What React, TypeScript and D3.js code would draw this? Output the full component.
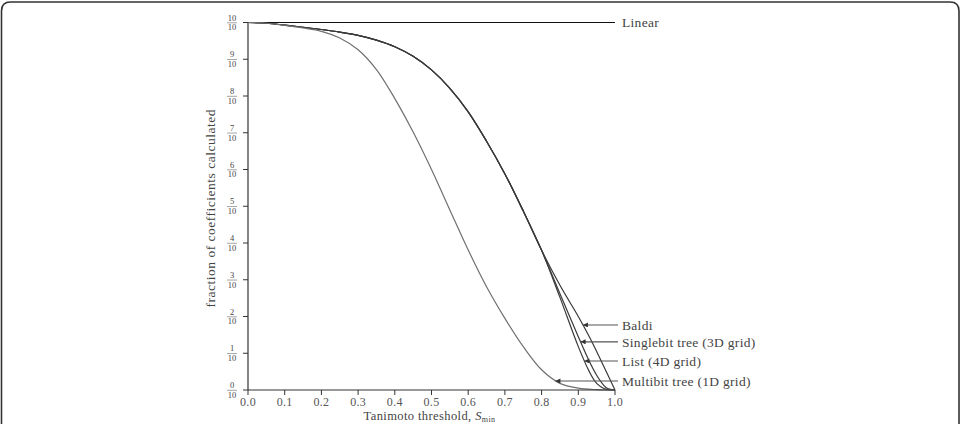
import * as d3 from "d3";
import { useEffect, useRef } from "react";

// threshold values (x) for the curves
const xCommon = [0, 0.05, 0.1, 0.15, 0.2, 0.25, 0.3, 0.35, 0.4, 0.45, 0.5, 0.55, 0.6, 0.65, 0.7, 0.75, 0.8];
const yCommon = [1, 0.998, 0.993, 0.987, 0.981, 0.974, 0.965, 0.952, 0.934, 0.908, 0.871, 0.821, 0.757, 0.677, 0.588, 0.487, 0.38];

const xTail = [0.85, 0.9, 0.93, 0.95, 0.97, 0.98, 1.0];
const baldiTail = [0.285, 0.2, 0.145, 0.105, 0.063, 0.042, 0];
const singlebitTail = [0.262, 0.145, 0.078, 0.04, 0.012, 0.004, 0];
const listTail = [0.252, 0.118, 0.05, 0.018, 0.004, 0.001, 0];

const xMulti = [0, 0.05, 0.1, 0.15, 0.2, 0.25, 0.3, 0.35, 0.4, 0.45, 0.5, 0.55, 0.6, 0.65, 0.7, 0.75, 0.8, 0.85, 0.9, 0.95, 1.0];
const yMulti = [1, 0.998, 0.992, 0.985, 0.976, 0.958, 0.926, 0.872, 0.793, 0.702, 0.6, 0.49, 0.381, 0.281, 0.195, 0.118, 0.055, 0.018, 0.005, 0.001, 0];

const xTicks = [0, 0.1, 0.2, 0.3, 0.4, 0.5, 0.6, 0.7, 0.8, 0.9, 1.0];
const yTicks = [0, 1, 2, 3, 4, 5, 6, 7, 8, 9, 10];

// labelled curves with the height of their label arrows
const seriesNames = ["Baldi", "Singlebit tree (3D grid)", "List (4D grid)", "Multibit tree (1D grid)"];
const labelY = [0.177, 0.131, 0.079, 0.0245];

function App() {
    const ref = useRef<SVGSVGElement>(null);

    useEffect(() => {
        const svg = d3.select(ref.current);
        svg.selectAll("*").remove();

        const width = 961;
        const height = 424;
        const margin = { left: 248, top: 22.5, right: 346, bottom: 34 };
        const plotW = width - margin.left - margin.right;
        const plotH = height - margin.top - margin.bottom;
        const font = "Liberation Serif";
        const textCol = "#444";

        svg.attr("width", width).attr("height", height)
            .attr("font-family", font);

        // frame around the figure
        svg.append("path")
            .attr("d", `M1.5,${height + 5} L1.5,11 Q1.5,2 10.5,2 L950,2 Q959,2 959,11 L959,${height + 5}`)
            .attr("fill", "none")
            .attr("stroke", "#333")
            .attr("stroke-width", 1.6);

        const g = svg.append("g").attr("transform", `translate(${margin.left},${margin.top})`);

        const x = d3.scaleLinear().domain([0, 1]).range([0, plotW]);
        const y = d3.scaleLinear().domain([0, 1]).range([plotH, 0]);

        const pts = (xs: number[], ys: number[]) => xs.map((v, i) => [v, ys[i]] as [number, number]);
        const common = pts(xCommon, yCommon);
        const curves = [
            { name: seriesNames[0], data: common.concat(pts(xTail, baldiTail)), color: "#3a3a3a" },
            { name: seriesNames[1], data: common.concat(pts(xTail, singlebitTail)), color: "#3a3a3a" },
            { name: seriesNames[2], data: common.concat(pts(xTail, listTail)), color: "#3a3a3a" },
            { name: seriesNames[3], data: pts(xMulti, yMulti), color: "#707070" },
        ];

        const line = d3.line<[number, number]>()
            .x(d => x(d[0]))
            .y(d => y(d[1]))
            .curve(d3.curveCatmullRom.alpha(0.5));

        // linear baseline
        g.append("line")
            .attr("x1", x(0)).attr("x2", x(1))
            .attr("y1", y(1)).attr("y2", y(1))
            .attr("stroke", "#111")
            .attr("stroke-width", 1.1);

        g.append("text")
            .attr("x", x(1) + 7)
            .attr("y", y(1))
            .attr("dy", "0.35em")
            .attr("font-size", 13.5)
            .attr("letter-spacing", 0.3)
            .attr("fill", textCol)
            .text("Linear");

        const paths = curves.map(c =>
            g.append("path")
                .datum(c.data)
                .attr("d", line)
                .attr("fill", "none")
                .attr("stroke", c.color)
                .attr("stroke-width", 1.2)
        );

        // axes
        const axisCol = "#333";
        g.append("line")
            .attr("x1", 0).attr("x2", 0).attr("y1", y(1)).attr("y2", y(0))
            .attr("stroke", axisCol).attr("stroke-width", 1.2);
        g.append("line")
            .attr("x1", 0).attr("x2", x(1)).attr("y1", y(0)).attr("y2", y(0))
            .attr("stroke", axisCol).attr("stroke-width", 1.2);

        xTicks.forEach(t => {
            g.append("line")
                .attr("x1", x(t)).attr("x2", x(t))
                .attr("y1", y(0)).attr("y2", y(0) + 5)
                .attr("stroke", axisCol);
            g.append("text")
                .attr("x", x(t))
                .attr("y", y(0) + 16)
                .attr("text-anchor", "middle")
                .attr("font-size", 12)
                .attr("letter-spacing", 0.3)
                .attr("fill", "#555")
                .text(t.toFixed(1));
        });

        yTicks.forEach(t => {
            const yy = y(t / 10);
            g.append("line")
                .attr("x1", -5).attr("x2", 0)
                .attr("y1", yy).attr("y2", yy)
                .attr("stroke", axisCol);
            const cx = -16;
            g.append("text")
                .attr("x", cx).attr("y", yy - 2)
                .attr("text-anchor", "middle")
                .attr("font-size", 8.5)
                .attr("fill", textCol)
                .text(String(t));
            g.append("line")
                .attr("x1", cx - 5).attr("x2", cx + 5)
                .attr("y1", yy + 0.3).attr("y2", yy + 0.3)
                .attr("stroke", "#666").attr("stroke-width", 0.6);
            g.append("text")
                .attr("x", cx).attr("y", yy + 7.8)
                .attr("text-anchor", "middle")
                .attr("font-size", 8.5)
                .attr("fill", textCol)
                .text("10");
        });

        // axis titles
        const xt = svg.append("text")
            .attr("x", margin.left + x(0.5) - 2)
            .attr("y", 420)
            .attr("text-anchor", "middle")
            .attr("font-size", 12.5)
            .attr("letter-spacing", 0.4)
            .attr("fill", textCol);
        xt.append("tspan").text("Tanimoto threshold, ");
        xt.append("tspan").attr("font-style", "italic").text("S");
        xt.append("tspan").attr("dy", 1.5).attr("font-size", 8).text("min");

        svg.append("text")
            .attr("transform", `translate(215,${margin.top + plotH / 2 + 2}) rotate(-90)`)
            .attr("text-anchor", "middle")
            .attr("font-size", 13.5)
            .attr("letter-spacing", 0.5)
            .attr("fill", textCol)
            .text("fraction of coefficients calculated");

        // arrow labels
        svg.append("defs").append("marker")
            .attr("id", "tip")
            .attr("viewBox", "0 0 10 10")
            .attr("refX", 10).attr("refY", 5)
            .attr("markerWidth", 7).attr("markerHeight", 5)
            .attr("markerUnits", "userSpaceOnUse")
            .attr("orient", "auto")
            .append("path")
            .attr("d", "M0,0 L10,5 L0,10 z")
            .attr("fill", "#333");

        curves.forEach((c, i) => {
            const node = paths[i].node() as SVGPathElement;
            const target = y(labelY[i]);
            const total = node.getTotalLength();
            let best = { x: 0, d: Infinity };
            for (let l = total * 0.4; l <= total; l += 0.5) {
                const p = node.getPointAtLength(l);
                const d = Math.abs(p.y - target);
                if (d < best.d) best = { x: p.x, d };
            }
            g.append("line")
                .attr("x1", x(1) + 3).attr("x2", best.x)
                .attr("y1", target).attr("y2", target)
                .attr("stroke", "#555")
                .attr("stroke-width", 1.1)
                .attr("marker-end", "url(#tip)");
            g.append("text")
                .attr("x", x(1) + 7)
                .attr("y", target)
                .attr("dy", "0.35em")
                .attr("font-size", 13.5)
                .attr("letter-spacing", 0.3)
                .attr("fill", textCol)
                .text(c.name);
        });
    }, []);

    return (
        <div style={{ position: "absolute", left: 0, top: 0 }}>
            <svg ref={ref} style={{ display: "block" }} />
        </div>
    );
}

export default App;
